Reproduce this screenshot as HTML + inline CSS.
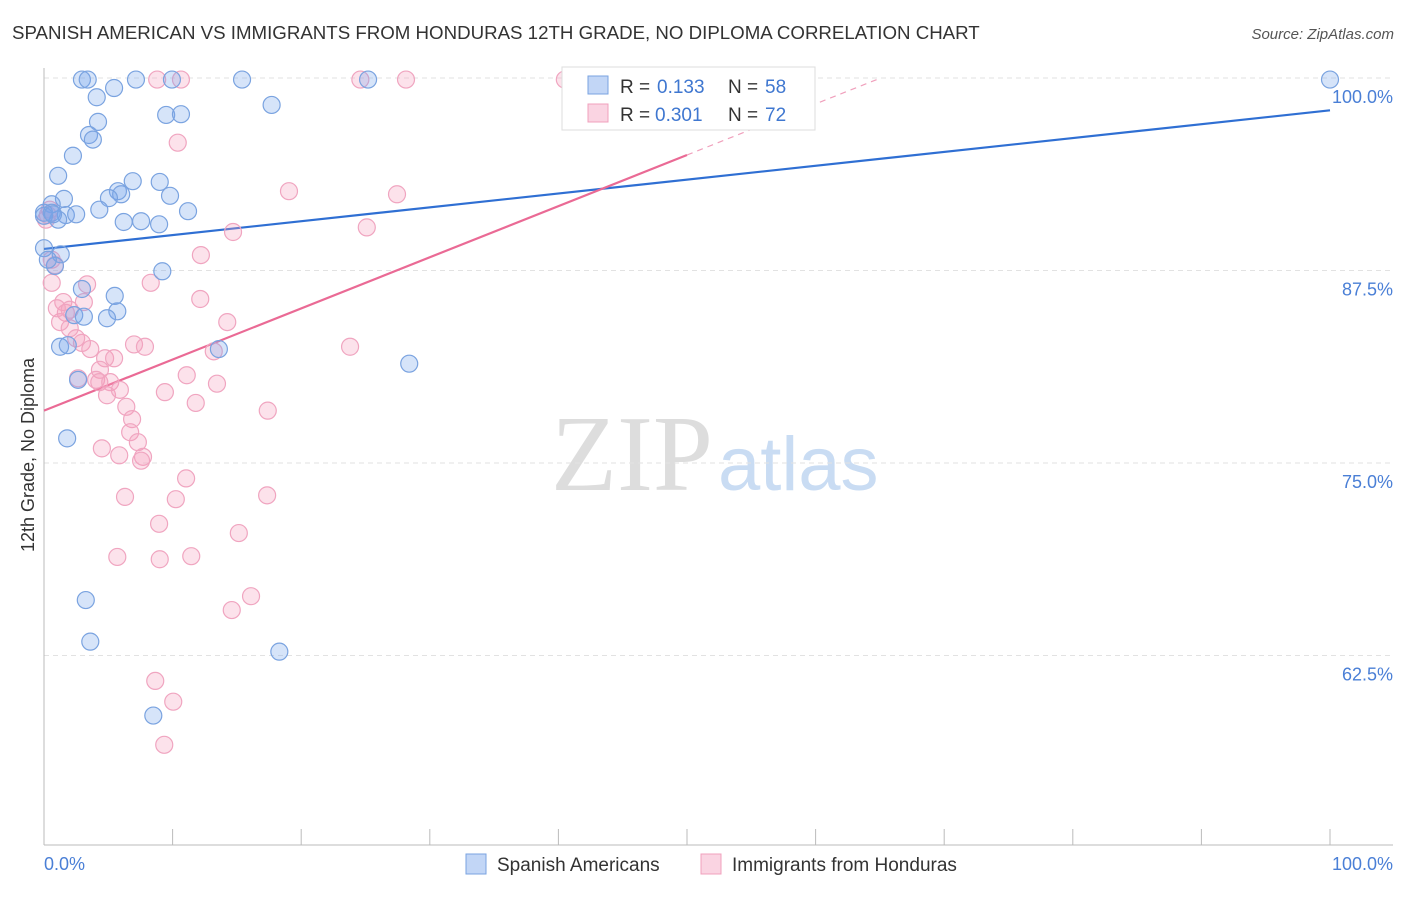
<!DOCTYPE html>
<html><head><meta charset="utf-8"><style>
body{margin:0;background:#fff;font-family:"Liberation Sans",sans-serif;}
</style></head><body>
<svg id="chart" width="1406" height="892" xmlns="http://www.w3.org/2000/svg" font-family="Liberation Sans, sans-serif">
<text x="12" y="39" font-size="18.7" fill="#333">SPANISH AMERICAN VS IMMIGRANTS FROM HONDURAS 12TH GRADE, NO DIPLOMA CORRELATION CHART</text>
<text x="1394" y="39" font-size="15" fill="#555" font-style="italic" text-anchor="end">Source: ZipAtlas.com</text>
<text x="713" y="490" font-size="108" fill="#ddd" text-anchor="end" font-family="Liberation Serif, serif">ZIP</text>
<text x="718" y="490" font-size="76" fill="#c9dcf3">atlas</text>
<text transform="translate(34,455) rotate(-90)" font-size="18" fill="#333" text-anchor="middle">12th Grade, No Diploma</text>
<g id="grid"></g><g id="axes"></g><g id="lines"></g><g id="pts"></g>
<g>
<rect x="562" y="67" width="253" height="63" fill="#fff" stroke="#ddd"/>
<rect x="588" y="76" width="20" height="18" fill="rgba(120,165,235,0.45)" stroke="#7aa3e0"/>
<text x="620" y="93" font-size="19" fill="#333">R =</text>
<text x="657" y="93" font-size="19" fill="#3f77d0">0.133</text>
<text x="728" y="93" font-size="19" fill="#333">N =</text>
<text x="765" y="93" font-size="19" fill="#3f77d0">58</text>
<rect x="588" y="104" width="20" height="18" fill="rgba(245,160,190,0.45)" stroke="#f0a0bc"/>
<text x="620" y="121" font-size="19" fill="#333">R =</text>
<text x="655" y="121" font-size="19" fill="#3f77d0">0.301</text>
<text x="728" y="121" font-size="19" fill="#333">N =</text>
<text x="765" y="121" font-size="19" fill="#3f77d0">72</text>
</g>
<g>
<rect x="466" y="854" width="20" height="20" fill="rgba(120,165,235,0.45)" stroke="#7aa3e0"/>
<text x="497" y="871" font-size="19" fill="#333">Spanish Americans</text>
<rect x="701" y="854" width="20" height="20" fill="rgba(245,160,190,0.45)" stroke="#f0a0bc"/>
<text x="732" y="871" font-size="19" fill="#333">Immigrants from Honduras</text>
</g>
<text x="44" y="870" font-size="18" fill="#4a7fd6">0.0%</text>
<text x="1393" y="870" font-size="18" fill="#4a7fd6" text-anchor="end">100.0%</text>
</svg>
<script>
const yTicks=[100,87.5,75,62.5];
const yTickLabels=["100.0%","87.5%","75.0%","62.5%"];
const blueX=[2.95,3.4,7.15,9.95,15.4,25.2,100,5.45,4.1,17.7,9.5,10.65,4.2,3.5,3.8,2.25,1.1,9.0,6.9,5.75,6.0,5.05,9.8,1.55,0.6,4.3,11.2,0,0.6,1.7,2.5,1.1,6.2,7.55,8.95,0,1.3,0.85,9.2,2.95,5.5,5.7,2.35,3.1,4.9,1.25,1.85,13.6,28.4,2.65,1.8,3.25,3.6,18.3,8.5,0,0.3,0.7];
const blueY=[99.9,99.9,99.9,99.9,99.9,99.9,99.9,99.35,98.75,98.25,97.6,97.65,97.15,96.3,96.0,94.95,93.65,93.25,93.3,92.65,92.45,92.2,92.35,92.15,91.8,91.45,91.35,91.25,91.25,91.1,91.15,90.8,90.65,90.7,90.5,88.95,88.55,87.8,87.45,86.3,85.85,84.85,84.6,84.5,84.4,82.55,82.65,82.4,81.45,80.4,76.6,66.1,63.4,62.75,58.6,91.05,88.2,91.15];
const pinkX=[8.8,10.65,24.6,28.15,40.5,41.6,10.4,19.05,27.45,25.1,14.7,0.15,0.45,0.6,0.85,12.2,0.6,3.35,8.3,12.15,1.5,3.1,1.7,2.0,1.25,14.25,2.0,2.5,2.95,3.6,7.0,7.85,23.8,13.2,4.75,5.45,4.35,11.1,2.65,4.05,4.3,5.15,13.45,9.4,4.9,5.9,11.8,6.4,17.4,6.85,6.7,7.3,4.5,5.85,7.7,7.55,11.05,6.3,10.25,17.35,8.95,15.15,5.7,9.0,11.45,16.1,14.6,8.65,10.05,9.35,0.3,1.0];
const pinkY=[99.9,99.9,99.9,99.9,99.9,99.9,95.8,92.65,92.45,90.3,90.0,90.8,91.45,88.2,87.85,88.5,86.7,86.6,86.7,85.65,85.45,85.45,84.75,84.95,84.15,84.15,83.75,83.1,82.8,82.4,82.7,82.55,82.55,82.25,81.8,81.8,81.05,80.7,80.5,80.4,80.25,80.25,80.15,79.6,79.4,79.75,78.9,78.65,78.4,77.85,77.0,76.35,75.95,75.5,75.4,75.15,74.0,72.8,72.65,72.9,71.05,70.45,68.9,68.75,68.95,66.35,65.45,60.85,59.5,56.7,91.1,85.05];
const blueTrend=[88.9,97.9];
const pinkTrend=[78.4,95.0,50];
const NS="http://www.w3.org/2000/svg";
const xS=v=>44+v*12.86;
const yS=v=>78+(100-v)*15.4;
function mk(tag,attrs,parent){const e=document.createElementNS(NS,tag);for(const k in attrs)e.setAttribute(k,attrs[k]);document.getElementById(parent).appendChild(e);return e;}
yTicks.forEach((t,i)=>{
 const g=mk('line',{x1:44,x2:1393,y1:yS(t),y2:yS(t),stroke:'#e2e2e2','stroke-dasharray':'5,4'},'grid');
 
 
 const l=mk('text',{x:1393,y:yS(t)+25,'font-size':18,fill:'#4a7fd6','text-anchor':'end'},'grid');
 l.textContent=yTickLabels[i];
 
 
});
const ax=mk('line',{x1:44,x2:1393,y1:845,y2:845,stroke:'#bbb'},'axes');


const ay=mk('line',{x1:44,x2:44,y1:68,y2:845,stroke:'#bbb'},'axes');


for(let i=0;i<=10;i++){const t=mk('line',{x1:xS(i*10),x2:xS(i*10),y1:829,y2:845,stroke:'#bbb'},'axes');
 
 }
const bl=mk('line',{x1:xS(0),y1:yS(blueTrend[0]),x2:xS(100),y2:yS(blueTrend[1]),stroke:'#2f6fd3','stroke-width':2.2},'lines');


const pk=(pinkTrend[1]-pinkTrend[0])/pinkTrend[2];
const pl=mk('line',{x1:xS(0),y1:yS(pinkTrend[0]),x2:xS(pinkTrend[2]),y2:yS(pinkTrend[1]),stroke:'#ea6a95','stroke-width':2.2},'lines');


const xe=(100-pinkTrend[0])/pk;
const pd=mk('line',{x1:xS(pinkTrend[2]),y1:yS(pinkTrend[1]),x2:xS(xe),y2:yS(100),stroke:'#f0a0bc','stroke-width':1.2,'stroke-dasharray':'6,5'},'lines');


pinkX.forEach((x,i)=>{const c=mk('circle',{cx:xS(x),cy:yS(pinkY[i]),r:8.5,fill:'rgba(245,160,190,0.3)',stroke:'#f0a5c0','stroke-width':1.2},'pts');
 
 });
blueX.forEach((x,i)=>{const c=mk('circle',{cx:xS(x),cy:yS(blueY[i]),r:8.5,fill:'rgba(120,165,235,0.3)',stroke:'#7aa3e0','stroke-width':1.2},'pts');
 
 });
</script>
</body></html>
